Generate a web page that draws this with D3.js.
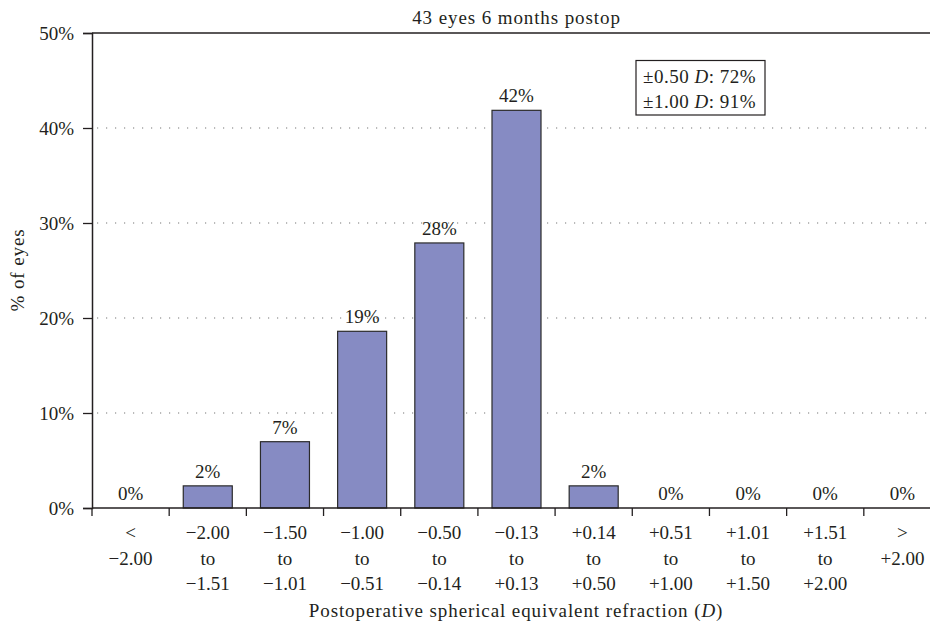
<!DOCTYPE html>
<html><head><meta charset="utf-8">
<script src="https://cdn.jsdelivr.net/npm/d3@7"></script>
<style>body{margin:0;background:#fff}svg{display:block}</style>
</head><body>
<svg id="c" width="930" height="627"></svg>
<script>
const categories = [["<","\u22122.00"],["\u22122.00","to","\u22121.51"],["\u22121.50","to","\u22121.01"],["\u22121.00","to","\u22120.51"],["\u22120.50","to","\u22120.14"],["\u22120.13","to","+0.13"],["+0.14","to","+0.50"],["+0.51","to","+1.00"],["+1.01","to","+1.50"],["+1.51","to","+2.00"],[">","+2.00"]];
const values = [0, 2.33, 6.98, 18.6, 27.9, 41.86, 2.33, 0, 0, 0, 0];
const valueLabels = ["0%","2%","7%","19%","28%","42%","2%","0%","0%","0%","0%"];
const yTicks = [0,10,20,30,40,50];
const title = "43 eyes 6 months postop";
const boxLines = [["\u00b10.50 ","D",": 72%"],["\u00b11.00 ","D",": 91%"]];

const FONT = "'Liberation Serif', 'Times New Roman', 'DejaVu Serif', serif";
const INK = "#231f20";
const FS = 19;
const LS = "0.9px";
const svg = d3.select("#c").attr("font-family", FONT);
const L = 92, R = 941, T = 33, B = 508;
const x = d3.scaleBand().domain(d3.range(categories.length)).range([L, R]).paddingInner(0.365).paddingOuter(0.1825);
const xt = d3.scaleBand().domain(d3.range(categories.length)).range([L, R]);
const y = d3.scaleLinear().domain([0, 50]).range([B, T]);

// gridlines
svg.append("g").selectAll("line").data(yTicks.filter(d => d > 0 && d < 50)).join("line")
  .attr("x1", L + 5).attr("x2", 930).attr("y1", d => y(d)).attr("y2", d => y(d))
  .attr("stroke", "#777").attr("stroke-width", 1.2).attr("stroke-dasharray", "1.2,7.8");
// top line
svg.append("line").attr("x1", L).attr("x2", 930).attr("y1", y(50)).attr("y2", y(50)).attr("stroke", INK).attr("stroke-width", 1.5);

// bars
svg.append("g").selectAll("rect").data(values.map((v, i) => ({v, i})).filter(d => d.v > 0)).join("rect")
  .attr("x", d => x(d.i)).attr("y", d => y(d.v)).attr("width", x.bandwidth()).attr("height", d => B - y(d.v))
  .attr("fill", "#868bc3").attr("stroke", "#2b2b2b").attr("stroke-width", 1.2);

// value labels
svg.append("g").selectAll("text").data(values).join("text")
  .attr("x", (d, i) => x(i) + x.bandwidth() / 2).attr("y", d => y(d) - 8)
  .attr("text-anchor", "middle").attr("font-size", FS).attr("fill", INK).attr("font-family", FONT)
  .text((d, i) => valueLabels[i]);

// y axis
const yAxis = svg.append("g").attr("transform", `translate(${L},0)`)
  .call(d3.axisLeft(y).tickValues(yTicks).tickSize(9).tickPadding(9).tickFormat(d => d + "%"));
yAxis.attr("font-family", FONT).attr("font-size", FS);
yAxis.select(".domain").attr("stroke", INK).attr("stroke-width", 1.5);
yAxis.selectAll(".tick line").attr("stroke", INK).attr("stroke-width", 1.3);
yAxis.selectAll(".tick text").attr("font-size", FS).attr("font-family", FONT).attr("fill", INK).attr("dy", "0.35em");

// x axis
svg.append("line").attr("x1", L).attr("x2", 930).attr("y1", B).attr("y2", B).attr("stroke", INK).attr("stroke-width", 1.5);
svg.append("g").selectAll("line").data(d3.range(categories.length)).join("line")
  .attr("x1", i => xt(i)).attr("x2", i => xt(i)).attr("y1", B).attr("y2", B + 8)
  .attr("stroke", INK).attr("stroke-width", 1.3);
const xl = svg.append("g").selectAll("text").data(categories).join("text")
  .attr("text-anchor", "middle").attr("font-size", FS).attr("fill", INK).attr("font-family", FONT)
  .attr("transform", (d, i) => `translate(${xt(i) + xt.bandwidth() / 2},539)`);
xl.selectAll("tspan").data(d => d).join("tspan").attr("x", 0).attr("y", (d, j) => j * 25.5).text(d => d);

// title
svg.append("text").attr("x", 516.5).attr("y", 24).attr("text-anchor", "middle").attr("letter-spacing", LS)
  .attr("font-size", FS).attr("fill", INK).attr("font-family", FONT).text(title);

// y label
svg.append("text").attr("transform", "translate(24,270) rotate(-90)").attr("text-anchor", "middle").attr("letter-spacing", LS)
  .attr("font-size", FS).attr("fill", INK).attr("font-family", FONT).text("% of eyes");

// x label
const xlab = svg.append("text").attr("x", 516).attr("y", 617).attr("text-anchor", "middle").attr("letter-spacing", LS)
  .attr("font-size", FS).attr("fill", INK).attr("font-family", FONT);
xlab.append("tspan").text("Postoperative spherical equivalent refraction (");
xlab.append("tspan").attr("font-style", "italic").text("D");
xlab.append("tspan").text(")");

// box
svg.append("rect").attr("x", 636).attr("y", 60.5).attr("width", 129).attr("height", 54.5)
  .attr("fill", "#fff").attr("stroke", INK).attr("stroke-width", 1.2);
boxLines.forEach((ln, k) => {
  const t = svg.append("text").attr("x", 643).attr("y", 82.5 + k * 25.5).attr("letter-spacing", "0.5px")
    .attr("font-size", FS).attr("fill", INK).attr("font-family", FONT);
  t.append("tspan").text(ln[0]);
  t.append("tspan").attr("font-style", "italic").text(ln[1]);
  t.append("tspan").text(ln[2]);
});
</script>
</body></html>
